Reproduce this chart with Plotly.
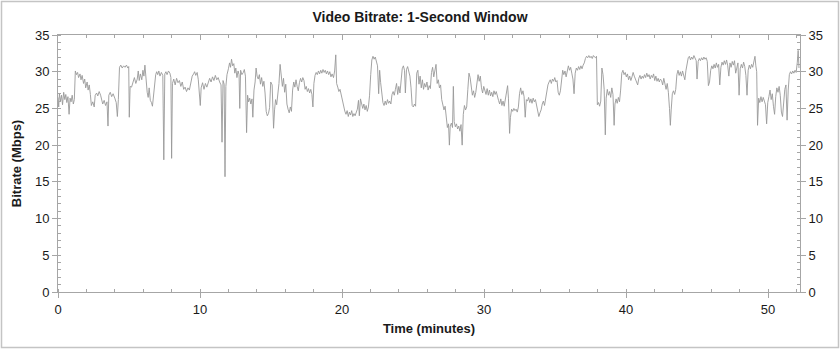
import plotly.graph_objects as go

pairs_text = """
0.00 26.5|0.05 25.2|0.10 27.0|0.18 26.0|0.25 26.8|0.32 25.5|0.40 27.2|0.48 26.2|0.55 26.9|0.62 25.8|0.70 26.6|0.78 24.2|0.85 26.4|0.92 25.9|1.00 26.8|1.08 25.6|1.15 26.2|1.22 30.1|1.30 29.6|1.38 29.9|1.45 29.2|1.55 29.7|1.62 28.9|1.70 29.5|1.80 28.4|1.88 29.0|1.95 27.8|2.05 28.6|2.12 27.5|2.20 28.2|2.28 26.9|2.35 25.4|2.45 25.9|2.55 25.2|2.62 26.8|2.72 27.1|2.80 26.7|2.90 27.3|3.00 26.8|3.08 26.0|3.15 25.6|3.25 26.1|3.35 25.4|3.45 25.9|3.52 22.6|3.58 26.8|3.68 27.2|3.78 26.6|3.88 27.0|4.00 26.4|4.10 25.8|4.18 23.9|4.25 26.2|4.33 30.6|4.42 30.9|4.52 30.5|4.62 30.8|4.72 30.6|4.82 30.9|4.92 30.5|4.98 30.7|5.02 23.8|5.08 28.0|5.18 27.9|5.28 28.6|5.38 29.2|5.48 28.4|5.58 29.0|5.65 30.1|5.72 28.8|5.80 29.7|5.90 28.9|5.98 30.2|6.05 29.4|6.12 30.9|6.20 28.7|6.28 27.2|6.35 26.5|6.42 27.8|6.50 26.1|6.58 25.8|6.65 25.3|6.72 26.9|6.80 28.4|6.88 29.6|6.95 30.0|7.02 29.6|7.10 30.1|7.18 29.4|7.28 29.9|7.38 29.5|7.45 18.0|7.52 29.7|7.60 30.0|7.68 29.6|7.78 30.1|7.88 29.8|7.95 29.2|8.00 18.2|8.06 28.4|8.15 29.0|8.25 28.2|8.35 29.1|8.45 28.5|8.55 28.8|8.65 28.0|8.75 28.6|8.85 27.6|8.95 27.9|9.05 27.3|9.15 27.8|9.25 27.5|9.35 28.6|9.45 29.4|9.55 29.7|9.62 30.0|9.70 29.5|9.80 29.9|9.88 28.9|9.95 27.6|10.02 25.4|10.08 27.8|10.18 28.5|10.28 27.6|10.38 28.4|10.48 27.9|10.58 28.7|10.68 29.1|10.78 28.6|10.88 29.3|10.98 28.8|11.08 29.5|11.18 28.9|11.28 29.2|11.38 28.6|11.48 28.2|11.55 20.4|11.62 28.8|11.70 28.3|11.76 15.7|11.82 28.0|11.90 29.6|12.00 30.4|12.08 31.2|12.15 30.6|12.22 31.7|12.30 30.8|12.38 31.1|12.45 29.8|12.52 30.5|12.60 29.2|12.68 30.1|12.75 29.6|12.80 25.0|12.86 30.2|12.95 29.6|13.05 29.9|13.12 30.3|13.20 29.4|13.28 21.7|13.35 26.8|13.42 25.9|13.50 26.4|13.58 25.6|13.66 26.3|13.72 23.8|13.80 27.5|13.88 28.6|13.95 30.5|14.02 29.4|14.10 29.0|14.18 29.6|14.26 28.3|14.34 29.2|14.42 28.0|14.50 28.7|14.58 27.1|14.66 24.6|14.74 24.0|14.82 24.3|14.90 25.1|14.98 28.6|15.08 28.2|15.18 22.3|15.25 24.8|15.32 26.2|15.40 25.5|15.48 26.8|15.56 28.4|15.64 31.0|15.72 29.2|15.80 28.0|15.88 29.1|15.96 27.2|16.04 28.3|16.12 25.6|16.20 24.9|16.28 24.4|16.36 25.2|16.44 24.6|16.52 27.5|16.60 28.6|16.68 27.9|16.76 28.9|16.84 28.0|16.92 27.4|17.00 28.5|17.08 29.1|17.16 28.6|17.24 29.2|17.32 28.8|17.40 27.6|17.48 28.0|17.56 27.3|17.64 27.7|17.72 27.1|17.80 27.6|17.88 26.9|17.95 25.2|18.02 28.4|18.10 29.5|18.18 29.9|18.26 29.6|18.34 30.1|18.42 29.7|18.50 30.2|18.58 29.8|18.66 30.3|18.74 29.9|18.82 30.2|18.90 29.7|18.98 30.1|19.06 29.6|19.14 30.0|19.22 29.3|19.30 29.7|19.40 29.2|19.48 30.1|19.56 32.3|19.62 28.4|19.70 27.9|19.78 27.3|19.86 27.6|19.95 26.8|20.05 25.8|20.12 25.0|20.20 24.6|20.28 24.2|20.36 24.7|20.44 23.9|20.52 24.5|20.60 24.1|20.68 24.7|20.76 23.9|20.84 24.3|20.92 24.0|21.00 24.6|21.08 24.9|21.16 26.1|21.22 24.0|21.30 26.3|21.38 25.7|21.46 25.0|21.54 25.6|21.62 24.8|21.70 25.4|21.78 24.6|21.86 25.2|21.94 26.8|22.02 29.6|22.10 31.6|22.18 32.1|22.26 31.7|22.34 32.0|22.42 31.4|22.50 30.8|22.58 27.0|22.65 30.2|22.72 28.5|22.80 26.9|22.88 25.8|22.96 25.4|23.04 26.0|23.12 25.5|23.20 26.2|23.28 25.7|23.36 26.0|23.44 25.6|23.52 26.9|23.60 27.3|23.68 26.8|23.76 27.6|23.84 28.4|23.92 26.9|24.00 28.0|24.08 27.1|24.16 28.6|24.24 30.4|24.32 30.8|24.40 30.2|24.46 27.1|24.54 30.3|24.62 30.7|24.70 30.1|24.78 29.4|24.86 27.8|24.94 25.4|25.02 25.2|25.10 25.6|25.18 25.3|25.26 29.8|25.34 30.2|25.42 28.3|25.50 29.4|25.58 27.8|25.66 28.9|25.74 27.6|25.82 28.4|25.90 27.9|25.98 28.6|26.06 27.5|26.14 28.1|26.22 27.7|26.30 29.9|26.38 30.6|26.46 29.3|26.54 30.1|26.62 31.0|26.70 28.4|26.78 28.9|26.86 27.8|26.94 28.2|27.02 26.2|27.10 25.4|27.18 24.8|27.26 25.3|27.34 23.6|27.42 22.4|27.50 22.9|27.56 20.0|27.62 22.6|27.70 23.0|27.78 22.4|27.84 28.0|27.90 23.2|27.98 22.5|28.06 22.9|28.14 22.2|28.22 22.6|28.30 21.9|28.38 22.8|28.46 20.0|28.54 24.2|28.62 25.4|28.70 24.8|28.78 25.2|28.86 27.6|28.94 29.8|29.02 29.2|29.10 27.5|29.18 26.8|29.26 27.4|29.34 26.5|29.42 27.2|29.50 29.0|29.58 29.6|29.66 28.7|29.74 29.4|29.82 27.8|29.90 27.1|29.98 28.0|30.06 27.3|30.14 26.9|30.22 27.7|30.30 26.8|30.38 27.5|30.46 26.7|30.54 27.2|30.62 26.6|30.70 27.4|30.78 26.9|30.86 27.3|30.94 26.5|31.02 26.1|31.10 25.6|31.18 26.3|31.26 25.4|31.34 26.0|31.42 25.3|31.50 26.4|31.58 27.5|31.66 28.1|31.72 26.4|31.80 21.6|31.86 23.8|31.94 24.9|32.02 24.6|32.10 25.0|32.18 24.7|32.26 24.9|32.34 24.5|32.42 25.2|32.50 27.0|32.58 27.8|32.66 26.9|32.74 27.4|32.82 26.6|32.90 23.8|32.98 26.2|33.06 26.0|33.14 26.5|33.22 25.8|33.30 26.3|33.38 25.7|33.46 26.4|33.54 25.9|33.62 26.2|33.70 25.3|33.78 24.3|33.86 23.9|33.94 24.4|34.02 24.8|34.10 25.6|34.18 26.0|34.26 25.4|34.34 26.4|34.42 27.2|34.50 28.2|34.58 28.6|34.66 28.9|34.74 28.4|34.82 29.0|34.90 28.7|34.98 29.2|35.06 28.6|35.14 28.8|35.22 27.2|35.30 26.8|35.38 27.4|35.46 29.4|35.54 30.2|35.62 29.6|35.70 30.1|35.78 29.3|35.86 30.4|35.94 30.8|36.02 30.2|36.10 30.6|36.18 29.8|36.26 29.0|36.34 27.0|36.42 29.8|36.50 30.5|36.58 30.2|36.66 30.7|36.74 30.3|36.82 30.8|36.90 30.4|36.98 30.9|37.06 31.2|37.14 31.8|37.22 32.1|37.30 31.9|37.38 32.2|37.46 31.9|37.54 32.1|37.62 31.8|37.70 32.2|37.78 32.0|37.86 31.9|37.92 32.1|37.98 25.5|38.06 25.8|38.14 25.3|38.22 26.0|38.30 30.5|38.38 29.6|38.46 27.6|38.54 21.4|38.60 26.4|38.68 27.6|38.76 26.8|38.84 27.3|38.92 26.5|39.00 27.8|39.08 26.9|39.16 22.7|39.22 25.6|39.30 26.3|39.38 25.7|39.46 26.5|39.54 25.9|39.62 27.5|39.70 29.8|39.78 30.2|39.86 29.6|39.94 29.9|40.02 29.3|40.10 29.7|40.18 28.9|40.26 29.4|40.34 28.8|40.42 29.3|40.50 29.9|40.58 29.4|40.66 29.0|40.74 28.5|40.82 28.2|40.90 29.1|40.98 29.5|41.06 29.0|41.14 29.4|41.22 29.1|41.30 29.6|41.38 29.2|41.46 29.8|41.54 29.3|41.62 29.6|41.70 29.0|41.78 29.5|41.86 29.2|41.94 29.7|42.02 28.8|42.10 29.4|42.18 28.7|42.26 29.1|42.34 28.6|42.42 29.0|42.50 28.8|42.58 28.2|42.66 29.1|42.74 28.5|42.82 27.6|42.90 28.4|42.98 27.2|43.06 25.0|43.12 22.7|43.18 24.8|43.26 27.0|43.34 27.4|43.42 26.9|43.50 27.6|43.58 29.6|43.66 30.2|43.74 29.5|43.82 30.0|43.90 29.4|43.98 30.1|44.06 29.3|44.14 28.9|44.22 30.2|44.30 31.2|44.38 31.9|44.46 32.1|44.54 31.6|44.62 32.0|44.70 31.7|44.78 32.2|44.86 31.8|44.94 31.5|45.00 29.0|45.08 31.4|45.16 31.8|45.24 31.5|45.32 31.9|45.40 31.6|45.48 32.0|45.56 31.7|45.64 31.9|45.72 31.4|45.80 28.1|45.88 28.6|45.96 30.2|46.04 30.8|46.12 30.4|46.20 31.0|46.28 30.5|46.36 31.2|46.44 30.6|46.52 31.0|46.60 28.2|46.68 30.6|46.76 31.3|46.84 30.9|46.92 31.5|47.00 31.0|47.08 31.6|47.16 30.8|47.24 29.4|47.32 31.2|47.40 30.6|47.48 31.4|47.56 30.9|47.64 31.5|47.72 29.8|47.80 30.6|47.88 31.2|47.96 26.8|48.04 30.4|48.12 31.0|48.20 30.5|48.28 31.3|48.36 30.7|48.44 29.5|48.52 26.8|48.60 30.2|48.68 30.9|48.76 30.4|48.84 31.0|48.92 30.6|49.00 31.2|49.08 32.1|49.14 30.8|49.20 30.0|49.26 22.7|49.34 26.4|49.42 25.8|49.50 26.6|49.58 25.9|49.66 26.5|49.74 26.0|49.82 25.5|49.90 22.9|49.98 25.8|50.06 26.6|50.14 27.5|50.22 26.2|50.30 27.0|50.38 25.3|50.46 24.2|50.54 26.6|50.62 27.8|50.70 27.2|50.78 28.0|50.86 26.8|50.94 24.5|51.02 23.9|51.10 26.0|51.18 27.6|51.26 28.2|51.34 23.4|51.42 27.5|51.50 29.6|51.58 30.0|51.66 29.7|51.74 30.1|51.82 29.8|51.90 30.2|51.98 29.9|52.06 31.3|52.12 32.9|52.18 30.5
"""

pairs = [p.split() for p in pairs_text.strip().split("|")]
time_min = [float(a) for a, b in pairs]
bitrate_mbps = [float(b) for a, b in pairs]

x_tickvals = [0, 10, 20, 30, 40, 50]
y_tickvals = [0, 5, 10, 15, 20, 25, 30, 35]

X_MAX = 52.25
AX_COLOR = "#a6a6a6"
TXT = "#1a1a1a"
FONT = "Liberation Sans, Arial, sans-serif"

fig = go.Figure()
fig.add_trace(go.Scatter(x=time_min, y=bitrate_mbps, mode="lines",
                         line=dict(color="#999999", width=0.9),
                         showlegend=False, hoverinfo="skip"))
# invisible helper trace so the mirrored axes render
fig.add_trace(go.Scatter(x=[0, X_MAX], y=[0, 35], xaxis="x2", yaxis="y2",
                         mode="lines", line=dict(width=0), opacity=0,
                         showlegend=False, hoverinfo="skip"))

common_x = dict(range=[0, X_MAX], showgrid=False, zeroline=False, showline=True,
                linecolor=AX_COLOR, linewidth=1, tickvals=x_tickvals,
                tickcolor=AX_COLOR, tickwidth=1,
                tickfont=dict(family=FONT, size=13, color=TXT))
common_y = dict(range=[0, 35], showgrid=False, zeroline=False, showline=True,
                linecolor=AX_COLOR, linewidth=1, tickvals=y_tickvals,
                tickcolor=AX_COLOR, tickwidth=1,
                tickfont=dict(family=FONT, size=13, color=TXT))

fig.update_layout(
    width=840, height=349,
    margin=dict(l=58, r=40, t=35, b=57),
    paper_bgcolor="white", plot_bgcolor="white",
    title=dict(text="<b>Video Bitrate: 1-Second Window</b>", x=0.5, xanchor="center",
               y=1 - 17 / 349, yanchor="middle",
               font=dict(family=FONT, size=14, color=TXT)),
    xaxis=dict(**common_x, ticks="outside", ticklen=5,
               minor=dict(dtick=2, tick0=0, ticks="inside", ticklen=3, tickcolor=AX_COLOR),
               title=dict(text="<b>Time (minutes)</b>", standoff=8,
                          font=dict(family=FONT, size=13, color=TXT))),
    xaxis2=dict(**common_x, overlaying="x", side="top", ticks="inside", ticklen=5,
                showticklabels=False,
                minor=dict(dtick=2, tick0=0, ticks="inside", ticklen=3, tickcolor=AX_COLOR)),
    yaxis=dict(**common_y, ticks="outside", ticklen=5,
               minor=dict(dtick=1, tick0=0, ticks="inside", ticklen=3, tickcolor=AX_COLOR),
               title=dict(text="<b>Bitrate (Mbps)</b>", standoff=10,
                          font=dict(family=FONT, size=13, color=TXT))),
    yaxis2=dict(**common_y, overlaying="y", side="right", anchor="x", ticks="outside", ticklen=5,
                minor=dict(dtick=1, tick0=0, ticks="inside", ticklen=3, tickcolor=AX_COLOR)),
)

# outer frame around the whole figure
pw, ph = 840 - 58 - 40, 349 - 35 - 57
fig.add_shape(type="rect", xref="paper", yref="paper",
              x0=(1.5 - 58) / pw, x1=(838.5 - 58) / pw,
              y0=(292 - 347.5) / ph, y1=(292 - 1.5) / ph,
              line=dict(color="#c4c4c4", width=1.5), layer="below")

fig.write_html("out.html")
